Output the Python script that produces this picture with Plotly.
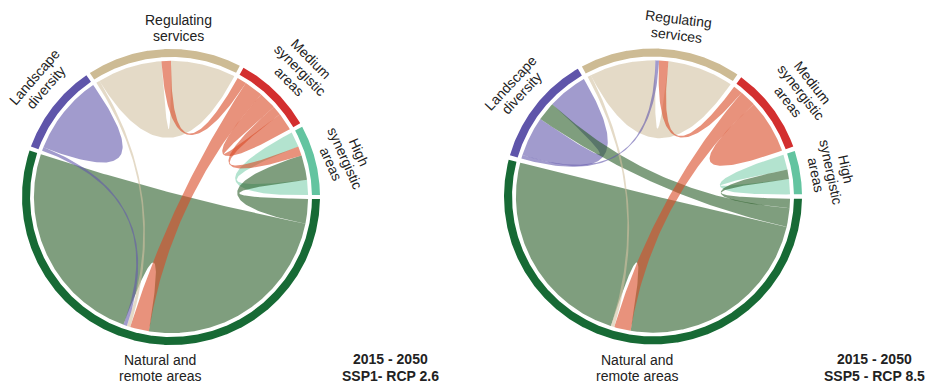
import numpy as np
import plotly.graph_objects as go

# ---------------- data ----------------
codes = ["G", "P", "T", "R", "H"]
labels = {
    "G": ["Natural and", "remote areas"],
    "P": ["Landscape", "diversity"],
    "T": ["Regulating", "services"],
    "R": ["Medium", "synergistic", "areas"],
    "H": ["High", "synergistic", "areas"],
}
ring_colors = {"G": "#176a35", "P": "#5f55aa", "T": "#cdbb94", "R": "#d32f2f", "H": "#63c4a0"}
link_colors = {
    "G": "rgba(42,93,40,0.6)",
    "P": "rgba(98,88,172,0.6)",
    "T": "rgba(210,193,162,0.6)",
    "R": "rgba(217,73,37,0.6)",
    "H": "rgba(128,208,175,0.6)",
}

# Left panel: 2015 - 2050, SSP1 - RCP 2.6 (flow widths, arc-degree units)
left_src = ["G", "P", "T", "R", "H", "G", "R", "T", "P", "R", "R"]
left_dst = ["G", "P", "T", "R", "H", "H", "G", "G", "G", "T", "H"]
left_val = [88, 17, 27.5, 7.5, 6.5, 10.5, 8, 1.5, 1.5, 4, 4]

# Right panel: 2015 - 2050, SSP5 - RCP 8.5
right_src = ["G", "P", "T", "R", "H", "G", "G", "R", "T", "P", "R"]
right_dst = ["G", "P", "T", "R", "H", "H", "P", "G", "G", "T", "T"]
right_val = [86.5, 17, 28, 11.5, 6.5, 4, 8, 7, 1.5, 1.5, 4]

scenario_titles = [["2015 - 2050", "SSP1- RCP 2.6"], ["2015 - 2050", "SSP5 - RCP 8.5"]]

# ---------------- layout config ----------------
# order of link ends inside each sector (clockwise), self links appear twice
left_order = {"G": ["H", "G", "R", "T", "P", "G"], "P": ["G", "P", "P"],
              "T": ["G", "T", "R", "T"], "R": ["T", "G", "R", "H", "R"],
              "H": ["H", "R", "G", "H"]}
right_order = {"G": ["H", "P", "G", "R", "T", "G"], "P": ["T", "P", "G", "P"],
               "T": ["G", "T", "P", "R", "T"], "R": ["T", "G", "R", "R"],
               "H": ["H", "G", "H"]}

W, H = 932, 385
R_OUT, R_IN, R_LINK = 1.0, 0.946, 0.92
FONT = "Liberation Sans, Arial, sans-serif"
LINE_PX = 15.5

panels = [
    dict(src=left_src, dst=left_dst, val=left_val, order=left_order,
         cx=171, cy=197, sx=149, sy=148, dom=(0.0, 0.5),
         lab={"T": (87.6, 1.143, 0), "P": (138.5, 1.173, -49), "R": (44.7, 1.219, 45),
              "H": (12.7, 1.197, 66), "G": (266.3, 1.157, 0)},
         title_xy=(390, 367)),
    dict(src=right_src, dst=right_dst, val=right_val, order=right_order,
         cx=653, cy=196.5, sx=149, sy=148, dom=(0.5, 1.0),
         lab={"T": (81.7, 1.157, 7), "P": (141.4, 1.176, -47), "R": (35.4, 1.218, 52),
              "H": (7.9, 1.206, 78), "G": (264.7, 1.164, 0)},
         title_xy=(874, 367)),
]


def pol(pos, r, start):
    a = np.radians(start - np.asarray(pos, dtype=float))
    return r * np.cos(a), r * np.sin(a)


def arc(p1, p2, r, start):
    n = max(3, int(abs(p2 - p1) / 0.4) + 2)
    return pol(np.linspace(p1, p2, n), r, start)


def bez(p1, p2, r, start, n=80):
    x0, y0 = pol(p1, r, start)
    x2, y2 = pol(p2, r, start)
    t = np.linspace(0, 1, n)
    # quadratic bezier with control point at the circle centre
    return (1 - t) ** 2 * x0 + t ** 2 * x2, (1 - t) ** 2 * y0 + t ** 2 * y2


fig = go.Figure()
annotations = []

for k, pnl in enumerate(panels):
    xa = "x" if k == 0 else "x2"
    ya = "y" if k == 0 else "y2"
    src, dst, val = pnl["src"], pnl["dst"], pnl["val"]
    link_map = {}
    for i, (s, d) in enumerate(zip(src, dst)):
        link_map[(s, d)] = i
        link_map[(d, s)] = i
    sector_tot = {c: 0.0 for c in codes}
    for s, d, v in zip(src, dst, val):
        sector_tot[s] += v
        sector_tot[d] += v
    gap = (360 - sum(sector_tot.values())) / len(codes)
    start = -gap / 2

    # positions of link ends
    ends = {i: [] for i in range(len(val))}
    sec_span = {}
    pos = 0.0
    for c in codes:
        s0 = pos
        for partner in pnl["order"][c]:
            i = link_map[(c, partner)]
            ends[i].append((pos, pos + val[i]))
            pos += val[i]
        sec_span[c] = (s0, pos)
        pos += gap

    # links
    for i in range(len(val)):
        (a1, a2), (b1, b2) = ends[i]
        parts = [arc(a1, a2, R_LINK, start), bez(a2, b1, R_LINK, start),
                 arc(b1, b2, R_LINK, start), bez(b2, a1, R_LINK, start)]
        xs = np.concatenate([p[0] for p in parts])
        ys = np.concatenate([p[1] for p in parts])
        fig.add_trace(go.Scatter(x=xs, y=ys, mode="lines", fill="toself",
                                 fillcolor=link_colors[src[i]], line=dict(width=0),
                                 hoverinfo="skip", showlegend=False, xaxis=xa, yaxis=ya))

    # outer ring + sector labels
    for c in codes:
        p1, p2 = sec_span[c]
        xo, yo = arc(p1, p2, R_OUT, start)
        xi, yi = arc(p2, p1, R_IN, start)
        fig.add_trace(go.Scatter(x=np.concatenate([xo, xi]), y=np.concatenate([yo, yi]),
                                 mode="lines", fill="toself", fillcolor=ring_colors[c],
                                 line=dict(width=0), hoverinfo="skip", showlegend=False,
                                 xaxis=xa, yaxis=ya))
        ang, rr, ta = pnl["lab"][c]
        bx, by = rr * np.cos(np.radians(ang)), rr * np.sin(np.radians(ang))
        lines = labels[c]
        n = len(lines)
        for j, line in enumerate(lines):
            off = (j - (n - 1) / 2) * LINE_PX
            dx = -np.sin(np.radians(ta)) * off / pnl["sx"]
            dy = -np.cos(np.radians(ta)) * off / pnl["sy"]
            annotations.append(dict(x=bx + dx, y=by + dy, xref=xa, yref=ya, text=line,
                                    showarrow=False, textangle=ta, xanchor="center",
                                    yanchor="middle",
                                    font=dict(family=FONT, size=14, color="#222222")))

    tx, ty = pnl["title_xy"]
    for j, line in enumerate(scenario_titles[k]):
        off = (j - 0.5) * 17
        annotations.append(dict(x=tx / W, y=1 - (ty + off) / H, xref="paper", yref="paper",
                                text="<b>" + line + "</b>", showarrow=False,
                                xanchor="center", yanchor="middle",
                                font=dict(family=FONT, size=14, color="#222222")))

    # axes ranges so that the circle sits at the chosen pixel centre
    d0, d1 = pnl["dom"]
    px0, px1 = d0 * W, d1 * W
    xr = [(px0 - pnl["cx"]) / pnl["sx"], (px1 - pnl["cx"]) / pnl["sx"]]
    yr = [(pnl["cy"] - H) / pnl["sy"], pnl["cy"] / pnl["sy"]]
    axx = dict(domain=[d0, d1], range=xr, visible=False, fixedrange=True)
    axy = dict(domain=[0, 1], range=yr, visible=False, fixedrange=True)
    if k == 0:
        fig.update_layout(xaxis=axx, yaxis=axy)
    else:
        axx["anchor"] = "y2"
        axy["anchor"] = "x2"
        fig.update_layout(xaxis2=axx, yaxis2=axy)

fig.update_layout(width=W, height=H, margin=dict(l=0, r=0, t=0, b=0),
                  paper_bgcolor="white", plot_bgcolor="white",
                  annotations=annotations, showlegend=False)
fig.write_html("out.html")
